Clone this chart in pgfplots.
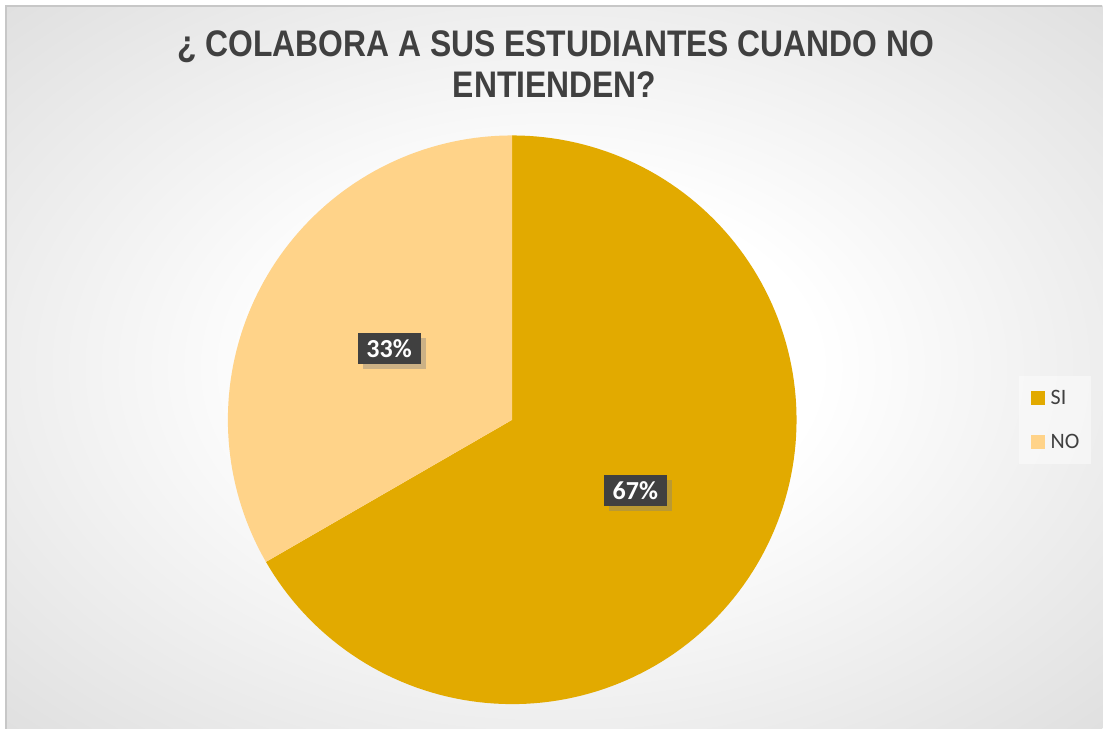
\documentclass[border=0pt]{standalone}
\usepackage{pgfplots}
\pgfplotsset{compat=1.18}
\usepackage{fontspec}
\usepackage{graphicx}
\setmainfont{Carlito}
\newfontfamily\titlefont{Liberation Sans}
\usetikzlibrary{shadows}
\definecolor{siCol}{RGB}{226,170,0}
\definecolor{noCol}{RGB}{255,211,137}
\definecolor{lblBg}{RGB}{64,64,64}
\definecolor{titleCol}{RGB}{64,64,64}
\pgfdeclareradialshading{bgshade}{\pgfpoint{0bp}{0bp}}{color(0bp)=(white); color(12bp)=(white); color(35bp)=(black!12); color(50bp)=(black!22)}

% data (percent of answers)
\def\valSI{66.67}
\def\valNO{33.33}

\begin{document}
\begin{tikzpicture}[x=0.5pt,y=0.5pt]
\fill[white] (0,0) rectangle (1103,729);
\shade[shading=bgshade] (6,0) rectangle (1103,723);
\draw[black!22, line width=0.6pt] (6,0) -- (6,723) -- (1103,723);
\node[font=\titlefont\bfseries\fontsize{18.5}{20}\selectfont, text=titleCol] at (556,682) {\scalebox{0.861}[1]{¿ COLABORA A SUS ESTUDIANTES CUANDO NO}};
\node[font=\titlefont\bfseries\fontsize{18.5}{20}\selectfont, text=titleCol] at (555,644) {\scalebox{0.861}[1]{ENTIENDEN?}};

\pgfmathsetmacro\tot{\valSI+\valNO}
\pgfmathsetmacro\fSI{\valSI/\tot}
\pgfmathsetmacro\fNO{\valNO/\tot}
\pgfmathsetmacro\aSI{90-360*\fSI}
\pgfmathsetmacro\aNO{\aSI-360*\fNO}
\pgfmathsetmacro\mSI{(90+\aSI)/2}
\pgfmathsetmacro\mNO{(\aSI+\aNO)/2}
\pgfmathtruncatemacro\pSI{round(100*\fSI)}
\pgfmathtruncatemacro\pNO{round(100*\fNO)}

\begin{axis}[at={(256.25pt,154.5pt)}, anchor=center, scale only axis,
  width=284.5pt, height=284.5pt, xmin=-1, xmax=1, ymin=-1, ymax=1,
  axis lines=none, clip=false,
  legend cell align=left,
  legend image code/.code={\fill[#1, fill opacity=1] (0pt,-3.5pt) rectangle (7pt,3.5pt); \path (10pt,0pt);},
  legend style={at={(1.39,0.5)}, anchor=west, draw=none, fill=white, fill opacity=0.45, text opacity=1,
    font=\fontsize{11}{13}\selectfont, text=black!75, row sep=15pt, inner xsep=6pt, inner ysep=7.5pt,
    nodes={inner xsep=0pt, inner ysep=0pt, text height=7pt, text depth=0pt}},
]
\addplot[fill=siCol, draw=none, domain=\aSI:90, samples=150, variable=\t] ({cos(\t)},{sin(\t)}) -- (0,0) -- cycle;
\addlegendentry{SI}
\addplot[fill=noCol, draw=none, domain=\aNO:\aSI, samples=80, variable=\t] ({cos(\t)},{sin(\t)}) -- (0,0) -- cycle;
\addlegendentry{NO}
\node[fill=lblBg, text=white, font=\bfseries\fontsize{13}{15}\selectfont, minimum width=31.5pt, minimum height=15.5pt, inner sep=0pt,
  drop shadow={shadow xshift=2.5pt, shadow yshift=-2.5pt, opacity=0.4}] at (axis cs:{0.5*cos(\mSI)},{0.5*sin(\mSI)}) {\pSI\%};
\node[fill=lblBg, text=white, font=\bfseries\fontsize{13}{15}\selectfont, minimum width=31.5pt, minimum height=15.5pt, inner sep=0pt,
  drop shadow={shadow xshift=2.5pt, shadow yshift=-2.5pt, opacity=0.4}] at (axis cs:{0.5*cos(\mNO)},{0.5*sin(\mNO)}) {\pNO\%};
\end{axis}
\end{tikzpicture}
\end{document}
